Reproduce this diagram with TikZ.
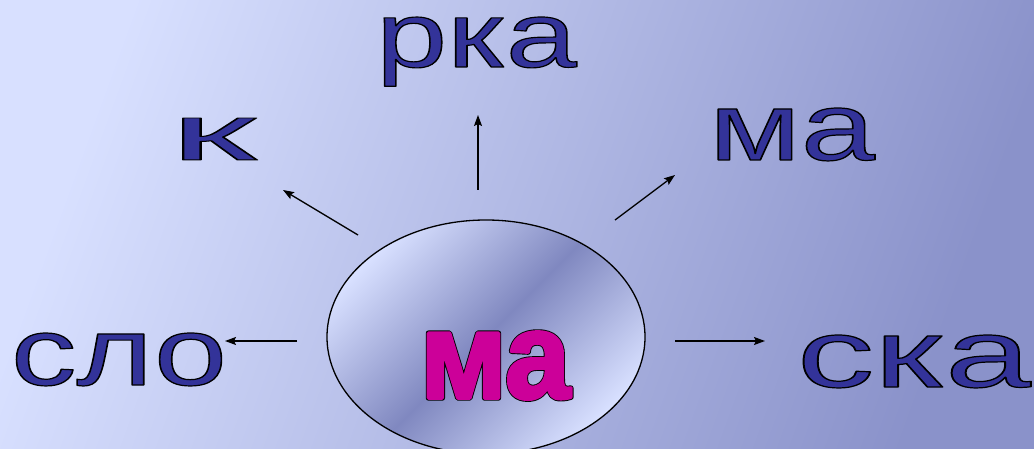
\documentclass[tikz,border=0pt]{standalone}
\usepackage{graphicx}
\usepackage{fontspec}
\setmainfont{Liberation Sans}
\usetikzlibrary{shapes.geometric,arrows.meta}
\definecolor{bgA}{HTML}{D8E0FF}
\definecolor{bgB}{HTML}{8A92CA}
\definecolor{elA}{HTML}{D8E0FF}
\definecolor{elB}{HTML}{8088C0}
\definecolor{wordblue}{HTML}{333399}
\definecolor{magentac}{HTML}{CC0099}
\pgfdeclarehorizontalshading{bgsh}{100bp}{color(0bp)=(bgA); color(25bp)=(bgA); color(75bp)=(bgB); color(100bp)=(bgB)}
\pgfdeclarehorizontalshading{elsh}{100bp}{color(0bp)=(elA); color(25bp)=(elA); color(50bp)=(elB); color(75bp)=(elA); color(100bp)=(elA)}
\newcommand\strk[3]{\special{pdf:literal direct 2 Tr #1 w 1 j #2 RG}#3\special{pdf:literal direct 0 Tr 0 j}}
\newcommand\wordbox[3]{\resizebox{#1pt}{#2pt}{\fontsize{96}{100}\selectfont\strk{1.2}{0 0 0}{#3}}}
\tikzset{
  word/.style={anchor=base west, inner sep=0pt, outer sep=0pt, text=wordblue},
  arr/.style={line width=1.3pt, -{Stealth[length=11pt,width=8pt,inset=2pt]}},
}
\begin{document}
\begin{tikzpicture}[x=1pt,y=-1pt]
\useasboundingbox (0,0) rectangle (1034,449);
\clip (0,0) rectangle (1034,449);
\shade[shading=bgsh, shading angle=-20] (0,0) rectangle (1034,449);
% central ellipse
\node[ellipse, draw=black, line width=1.3pt, shading=elsh, shading angle=-45,
      minimum width=318pt, minimum height=234pt, inner sep=0pt] (c) at (486,337) {};
% central syllable
\node[anchor=base west, inner sep=0pt, text=magentac] (cm0) at (420,398)
  {\resizebox{150pt}{66pt}{\fontsize{135}{140}\selectfont\bfseries\strk{6}{0 0 0}{ма}}};
\node[anchor=base west, inner sep=0pt, text=magentac] (cm) at (420,398)
  {\resizebox{150pt}{66pt}{\fontsize{135}{140}\selectfont\bfseries\strk{4}{0.8 0 0.6}{ма}}};
% words
\node[word] (rka) at (376,67) {\wordbox{201}{50}{рка}};
\node[word] (k) at (170,160) {\wordbox{86}{42}{к}};
\node[word] (ma) at (709,160) {\wordbox{166}{52}{ма}};
\node[word] (slo) at (11,385) {\wordbox{216}{52}{сло}};
\node[word] (ska) at (797,387) {\wordbox{234}{52}{ска}};
% arrow end points
\coordinate (l0) at (297,341); \coordinate (l1) at (225,341);
\coordinate (r0) at (675,341); \coordinate (r1) at (765,341);
\coordinate (u0) at (478,190); \coordinate (u1) at (478,115);
\coordinate (ul0) at (358,235); \coordinate (ul1) at (283,190);
\coordinate (ur0) at (615,220); \coordinate (ur1) at (675,175);
\draw[arr] (l0) -- (l1);
\draw[arr] (r0) -- (r1);
\draw[arr] (u0) -- (u1);
\draw[arr] (ul0) -- (ul1);
\draw[arr] (ur0) -- (ur1);
\end{tikzpicture}
\end{document}
